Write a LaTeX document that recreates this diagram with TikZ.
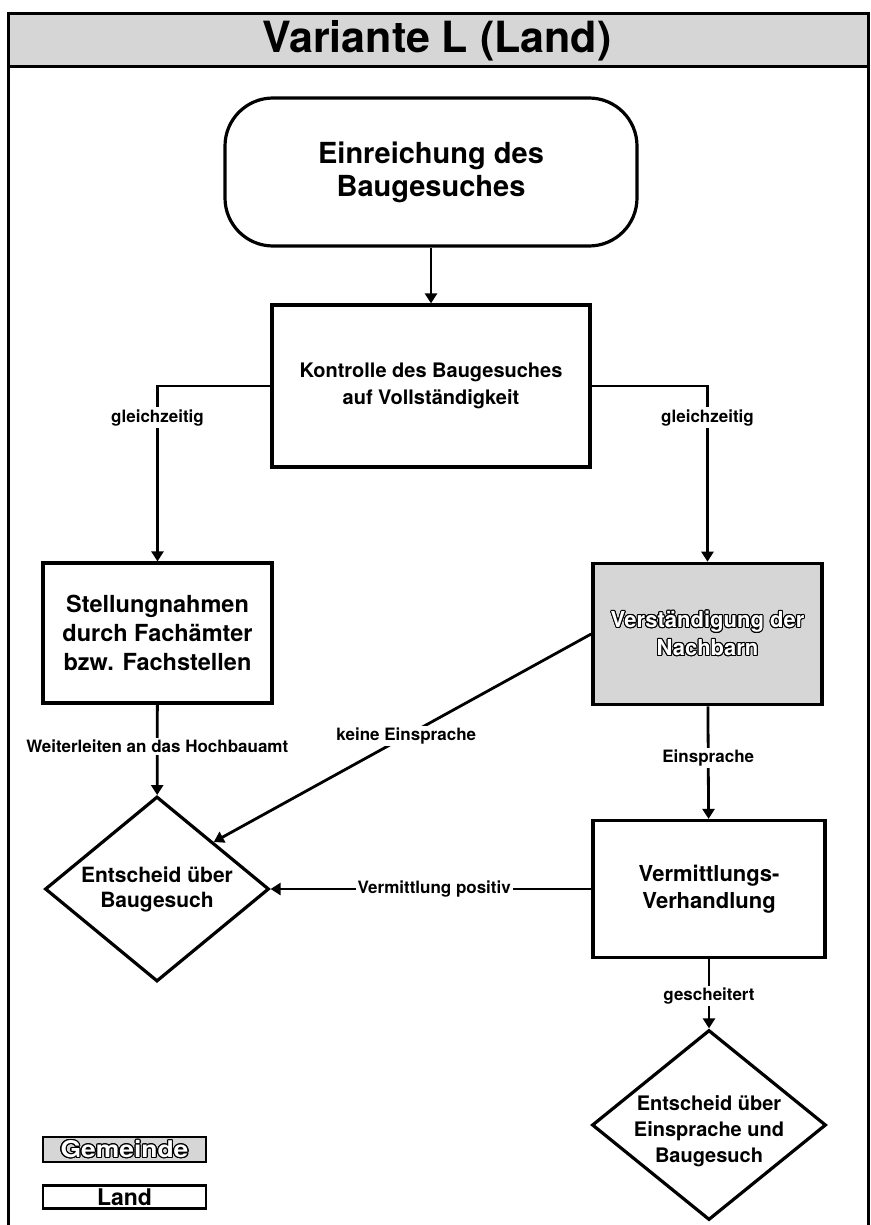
\documentclass[tikz,border=0pt]{standalone}
\usepackage{fontspec}
\setmainfont{TeX Gyre Heros}
\usepackage{contour}
\contourlength{1pt}
\usetikzlibrary{arrows.meta,shapes.geometric}
\newcommand{\hohl}[1]{\contour{black}{\textcolor{white}{#1}}}

\begin{document}
\begin{tikzpicture}[x=1pt, y=-1pt,
  every node/.style={font=\bfseries},
  box/.style={draw, line width=3.2pt, align=center, inner sep=0pt},
  entscheidbox/.style={diamond, draw, line width=3.2pt, align=center, inner sep=-3pt},
  lbl/.style={fill=white, inner sep=2pt, font=\bfseries\fontsize{17}{20}\selectfont},
  pfeil/.style={-{Triangle[length=10pt,width=12pt]}, line width=2.8pt},
  grau/.style={fill=black!16}]
\useasboundingbox (0,0) rectangle (870,1225);
% Rahmen und Titel
\fill[grau] (8,14) rectangle (868,67);
\draw[line width=3pt] (8,1225) -- (8,14) -- (868,14) -- (868,1225);
\draw[line width=3pt] (8,67) -- (868,67);
\node (titel) at (437,41) {\fontsize{43}{43}\selectfont Variante L (Land)};
% Ablauf
\node (einreichung) at (431,172) [box, rounded corners=48pt, minimum width=412pt, minimum height=148pt, font=\bfseries\fontsize{29}{33}\selectfont] {Einreichung des\\Baugesuches};
\node (kontrolle) at (431,386) [box, minimum width=318pt, minimum height=162pt, font=\bfseries\fontsize{20}{27}\selectfont] {Kontrolle des Baugesuches\\auf Vollständigkeit};
\node (stellung) at (157.5,633) [box, minimum width=229pt, minimum height=140pt, font=\bfseries\fontsize{23.5}{29}\selectfont] {Stellungnahmen\\durch Fachämter\\bzw. Fachstellen};
\node (nachbarn) at (707.5,634) [box, grau, line width=3.6pt, minimum width=229pt, minimum height=141pt, font=\bfseries\fontsize{22}{28}\selectfont] {\hohl{Verständigung der}\\\hohl{Nachbarn}};
\node (entscheid) at (157,889) [entscheidbox, aspect=1.21, minimum width=224pt, minimum height=185pt, font=\bfseries\fontsize{21}{25}\selectfont] {Entscheid über\\Baugesuch};
\node (vermittlung) at (709,889) [box, minimum width=232pt, minimum height=137pt, font=\bfseries\fontsize{22}{27}\selectfont] {Vermittlungs-\\Verhandlung};
\node (einsprache) at (709,1125) [entscheidbox, aspect=1.23, minimum width=234pt, minimum height=190pt, font=\bfseries\fontsize{20}{26}\selectfont] {\raisebox{-6pt}[\height][\depth]{\begin{tabular}{@{}c@{}}Entscheid über\\Einsprache und\\Baugesuch\end{tabular}}};
% Legende
\node (gemeinde) at (124.5,1149.5) [box, grau, line width=2.4pt, minimum width=163pt, minimum height=25pt, font=\bfseries\fontsize{23}{23}\selectfont] {\scalebox{1.15}[1]{\hohl{Gemeinde}}};
\node (land) at (124.5,1197) [box, line width=2.4pt, minimum width=163pt, minimum height=23pt, font=\bfseries\fontsize{23}{23}\selectfont] {Land};
% Verbindungen
\draw[pfeil] (einreichung) -- (kontrolle);
\draw[pfeil] (kontrolle.west) -| node[lbl, pos=0.59] (gleichL) {gleichzeitig} (stellung.north);
\draw[pfeil] (kontrolle.east) -| node[lbl, pos=0.59] (gleichR) {gleichzeitig} (nachbarn.north);
\draw[pfeil] (stellung) -- node[lbl, pos=0.46] (weiter) {Weiterleiten an das Hochbauamt} (entscheid);
\draw[pfeil] (nachbarn.west) -- node[lbl, pos=0.49] (keine) {keine Einsprache} (entscheid.north east);
\draw[pfeil] (nachbarn) -- node[lbl, pos=0.46] (einspr) {Einsprache} (vermittlung);
\draw[pfeil] (vermittlung) -- node[lbl, pos=0.49] (positiv) {Vermittlung positiv} (entscheid);
\draw[pfeil] (vermittlung) -- node[lbl, pos=0.53] (gesch) {gescheitert} (einsprache);
\end{tikzpicture}
\end{document}
